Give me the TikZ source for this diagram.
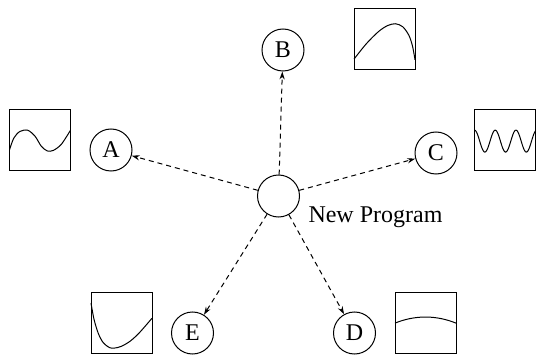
\documentclass[tikz,border=0pt]{standalone}
\usepackage{fontspec}
\setmainfont{Liberation Serif}
\usetikzlibrary{arrows,arrows.meta}

\begin{document}
\begin{tikzpicture}[x=5pt,y=5pt,line width=0.5pt,font=\large]
			\tikzstyle{o}=[circle,draw,minimum size=21pt,inner sep=0pt]
			\tikzstyle{g}=[draw,minimum size=30.5pt,inner sep=0pt,outer sep=0pt]
			\tikzstyle{d}=[->,>={Stealth[length=4pt,width=2.6pt]},dash pattern=on 2.5pt off 2pt]
			\useasboundingbox (0,0) rectangle (53.6,35.4);
				\node [o] (p) at (27.85,15.8) {};
				\node [o] (a) at (11.1,20.4) {A};
				\node [o] (b) at (28.3,30.4) {B};
				\node [o] (c) at (43.6,20.1) {C};
				\node [o] (d) at (35.45,2.1) {D};
				\node [o] (e) at (19.25,2.1) {E};
				\node [anchor=base west,inner sep=0pt] (np) at ([xshift=14.75pt,yshift=-13pt]p.center) {New Program};
				\draw [d] (p) to (a);
				\draw [d] (p) to (b);
				\draw [d] (p) to (c);
				\draw [d] (p) to (d);
				\draw [d] (p) to (e);
				% a small plot next to each circle
				\node [g] (ga) at (4.0,21.4) {};
				\node [g] (gb) at (38.45,31.5) {};
				\node [g] (gc) at (50.5,21.35) {};
				\node [g] (gd) at (42.55,3.15) {};
				\node [g] (ge) at (12.15,3.15) {};
				\draw [shift={(ga.south west)},x=30.5pt,y=30.5pt] plot [smooth] coordinates
					{(0,0.34) (0.07,0.53) (0.17,0.64) (0.3,0.66) (0.42,0.56) (0.52,0.4) (0.62,0.32) (0.72,0.33) (0.85,0.43) (1,0.66)};
				\draw [shift={(gb.south west)},x=30.5pt,y=30.5pt] plot [smooth] coordinates
					{(0,0.17) (0.2,0.42) (0.4,0.62) (0.55,0.72) (0.68,0.75) (0.8,0.7) (0.9,0.56) (0.96,0.38) (1,0.16)};
				\draw [shift={(gc.south west)},x=30.5pt,y=30.5pt] plot [domain=0:1,samples=80,smooth] (\x,{0.49+0.18*cos(360*\x/0.34)});
				\draw [shift={(gd.south west)},x=30.5pt,y=30.5pt] (0,0.49) .. controls (0.33,0.623) and (0.67,0.623) .. (1,0.49);
				\draw [shift={(ge.south west)},x=30.5pt,y=30.5pt] plot [smooth] coordinates
					{(0,0.82) (0.05,0.55) (0.12,0.32) (0.2,0.17) (0.3,0.09) (0.38,0.08) (0.5,0.11) (0.65,0.2) (0.8,0.34) (1,0.57)};
	\end{tikzpicture}
\end{document}
